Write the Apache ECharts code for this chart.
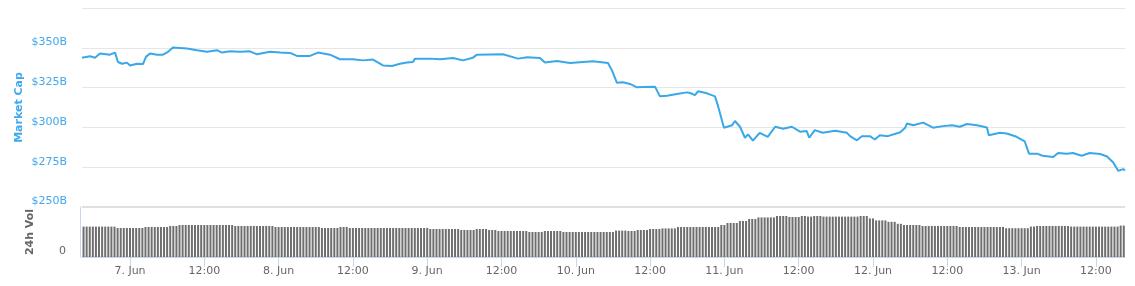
<!DOCTYPE html>
<html>
<head>
<meta charset="utf-8">
<script src="https://cdn.jsdelivr.net/npm/echarts@6/dist/echarts.min.js"></script>
<style>
html,body{margin:0;padding:0;background:#fff;}
#chart{width:1135px;height:286px;}
</style>
</head>
<body>
<div id="chart"></div>
<script>
// Hours relative to 7 Jun 00:00
var mcHours = [-7.75,-6.46,-5.65,-4.85,-3.23,-2.42,-1.94,-1.29,-0.48,0,1.13,2.10,2.58,3.23,4.36,5.33,6.14,6.94,9.21,10.82,12.44,14.05,14.86,16.15,17.77,19.38,20.51,22.61,24.23,25.84,26.97,29.07,30.36,32.30,33.92,36.01,37.63,39.24,40.86,42.31,43.61,44.74,45.70,46.03,48.45,
50.07,52.16,53.78,55.39,56.04,60.24,62.66,64.12,66.22,67.02,68.96,71.06,73.16,74.77,77.20,77.84,78.65,79.62,80.75,81.88,82.85,84.79,85.60,86.73,88.34,89.96,90.44,91.25,91.73,93.19,94.48,94.97,95.93,97.23,97.71,98.52,99.32,99.81,100.6,101.7,103.0,104.2,
105.5,106.9,108.2,109.3,109.7,110.6,111.9,113.9,115.8,116.3,117.4,118.2,119.5,120.3,121.1,122.4,124.4,125.2,125.5,126.5,128.1,129.7,131.3,132.8,134.0,135.2,136.8,138.4,138.7,140.5,141.6,143.2,144.5,145.2,146.5,147.4,149.1,149.9,151.3,152.3,153.7,155.0,156.7,157.8,158.8,159.6,160.4,160.7];
var mcValues = [343.8,344.7,343.8,346.4,345.7,347.0,341.1,340.0,340.7,338.9,340.0,339.8,344.3,346.4,345.7,345.7,347.5,350.2,349.6,348.5,347.5,348.5,347.0,347.8,347.5,347.8,345.9,347.5,347.0,346.8,344.9,344.9,347.0,345.7,342.8,342.8,342.1,342.6,338.9,338.6,340.0,340.7,341.1,343.2,343.2,
342.8,343.6,342.1,343.8,345.7,345.9,343.2,344.0,343.6,340.7,341.7,340.5,341.1,341.5,340.5,335.8,328.0,328.4,327.3,325.2,325.4,325.6,319.5,319.9,321.0,322.0,321.6,320.3,322.7,321.4,319.5,313.5,299.8,301.3,304.0,300.4,293.5,295.6,291.7,296.6,294.1,300.4,
299.2,300.4,297.3,297.7,293.5,298.3,296.6,297.9,296.6,294.5,291.9,294.5,294.5,292.4,295.1,294.5,297.0,299.8,302.5,301.3,303.0,299.8,300.8,301.3,300.4,302.1,301.3,300.0,295.1,296.6,296.2,294.1,291.3,283.5,283.5,282.2,281.4,283.9,283.5,283.9,282.2,283.9,283.3,281.7,278.0,272.7,273.8,272.9];

// 24h volume (billions USD), one bar every 30 minutes from 6 Jun 16:30
var volStartHour = -7.5;
var volStepHours = 0.5;
var volValues = [
15.2,15.2,15.2,15.2,15.2,15.2,15.2,15.2,15.2,15.2,
15.2,14.5,14.5,14.5,14.5,14.5,14.5,14.5,14.5,14.5,
15.0,15.0,15.0,15.0,15.0,15.0,15.0,15.0,15.5,15.5,
15.5,16.0,16.0,16.0,16.0,16.0,16.0,16.0,16.0,16.0,
16.0,16.0,16.0,16.0,16.0,16.0,16.0,16.0,16.0,15.5,
15.5,15.5,15.5,15.5,15.5,15.5,15.5,15.5,15.5,15.5,
15.5,15.5,15.0,15.0,15.0,15.0,15.0,15.0,15.0,15.0,
15.0,15.0,15.0,15.0,15.0,15.0,15.0,14.5,14.5,14.5,
14.5,14.5,14.5,15.0,15.0,15.0,14.5,14.5,14.5,14.5,
14.5,14.5,14.5,14.5,14.5,14.5,14.5,14.5,14.5,14.5,
14.5,14.5,14.5,14.5,14.5,14.5,14.5,14.5,14.5,14.5,
14.5,14.5,14.0,14.0,14.0,14.0,14.0,14.0,14.0,14.0,
14.0,14.0,13.5,13.5,13.5,13.5,13.5,14.0,14.0,14.0,
14.0,13.5,13.5,13.5,13.0,13.0,13.0,13.0,13.0,13.0,
13.0,13.0,13.0,13.0,12.5,12.5,12.5,12.5,12.5,13.0,
13.0,13.0,13.0,13.0,13.0,12.5,12.5,12.5,12.5,12.5,
12.5,12.5,12.5,12.5,12.5,12.5,12.5,12.5,12.5,12.5,
12.5,12.5,13.2,13.2,13.2,13.2,13.0,13.0,13.0,13.5,
13.5,13.5,13.5,14.0,14.0,14.0,14.0,14.3,14.3,14.3,
14.3,14.3,15.0,15.0,15.0,15.0,15.0,15.0,15.0,15.0,
15.0,15.0,15.0,15.0,15.0,15.0,16.0,16.0,17.0,17.0,
17.0,17.0,18.0,18.0,18.0,19.0,19.0,19.0,19.8,19.8,
19.8,19.8,19.8,19.8,20.5,20.5,20.5,20.5,20.0,20.0,
20.0,20.0,20.5,20.5,20.2,20.2,20.5,20.5,20.5,20.2,
20.2,20.2,20.2,20.2,20.2,20.2,20.2,20.2,20.2,20.2,
20.2,20.5,20.5,20.5,19.3,19.3,18.3,18.3,18.3,18.3,
17.6,17.6,17.6,16.6,16.6,16.0,16.0,16.0,16.0,16.0,
16.0,15.5,15.5,15.5,15.5,15.5,15.5,15.5,15.5,15.5,
15.5,15.5,15.5,15.0,15.0,15.0,15.0,15.0,15.0,15.0,
15.0,15.0,15.0,15.0,15.0,15.0,15.0,15.0,14.4,14.4,
14.4,14.4,14.4,14.4,14.4,14.4,15.2,15.2,15.5,15.5,
15.5,15.5,15.5,15.5,15.5,15.5,15.5,15.5,15.5,15.2,
15.2,15.2,15.2,15.2,15.2,15.2,15.2,15.2,15.2,15.2,
15.2,15.2,15.2,15.2,15.2,15.7,15.7];

var xMinHour = -7.75;
var xMaxHour = 160.7;
var tickHours = [0,12,24,36,48,60,72,84,96,108,120,132,144,156];
var mcTicks = {min: 250, max: 375, interval: 25};

var LINE_BLUE = '#38a8e8';
var LABEL_BLUE = '#40a8ee';
var AXIS_BLUE = '#ccd6eb';
var GRAY_TXT = '#666666';
var FONT = 'DejaVu Sans';

var mcData = mcHours.map(function (h, i) { return [h, mcValues[i]]; });
var volData = volValues.map(function (v, i) { return [volStartHour + i * volStepHours, v]; });

function tickLabel(h) {
  if (h % 24 === 0) return (7 + h / 24) + '. Jun';
  return '12:00';
}

var chart = echarts.init(document.getElementById('chart'), null, {renderer: 'canvas'});
chart.setOption({
  animation: false,
  grid: [
    {left: 82, right: 10, top: 8, height: 199},
    {left: 82, right: 10, top: 207, height: 50}
  ],
  xAxis: [
    {
      type: 'value', gridIndex: 0, min: xMinHour, max: xMaxHour,
      show: false, splitLine: {show: false}
    },
    {
      type: 'value', gridIndex: 1, min: xMinHour, max: xMaxHour,
      splitLine: {show: false},
      axisLine: {show: true, onZero: false, lineStyle: {color: AXIS_BLUE, width: 1}},
      axisTick: {show: true, length: 10, customValues: tickHours, lineStyle: {color: AXIS_BLUE}},
      axisLabel: {
        customValues: tickHours, formatter: tickLabel, color: GRAY_TXT,
        fontFamily: FONT, fontSize: 11, margin: 9
      }
    }
  ],
  yAxis: [
    {
      type: 'value', gridIndex: 0, min: mcTicks.min, max: mcTicks.max, interval: mcTicks.interval,
      name: 'Market Cap', nameLocation: 'middle', nameGap: 57, nameRotate: 90,
      nameMoveOverlap: false,
      nameTextStyle: {color: LABEL_BLUE, fontFamily: FONT, fontSize: 11, fontWeight: 'bold'},
      axisLine: {show: false, onZero: false}, axisTick: {show: false},
      splitLine: {show: true, lineStyle: {color: '#e6e6e6', width: 1}},
      axisLabel: {
        color: LABEL_BLUE, fontFamily: FONT, fontSize: 11, margin: 15,
        verticalAlign: 'bottom',
        formatter: function (v) { return v === 375 ? '' : '$' + v + 'B'; }
      }
    },
    {
      type: 'value', gridIndex: 1, min: 0, max: 25, interval: 25,
      name: '24h Vol', nameLocation: 'middle', nameGap: 44, nameRotate: 90,
      nameMoveOverlap: false,
      nameTextStyle: {color: GRAY_TXT, fontFamily: FONT, fontSize: 11, fontWeight: 'bold'},
      offset: 2,
      axisLine: {show: true, onZero: false, lineStyle: {color: AXIS_BLUE, width: 1}},
      axisTick: {show: false},
      splitLine: {show: true, lineStyle: {color: '#e0e0e0', width: 2}},
      axisLabel: {
        color: GRAY_TXT, fontFamily: FONT, fontSize: 11, margin: 14,
        verticalAlign: 'bottom',
        formatter: function (v) { return v === 0 ? '0' : ''; }
      }
    }
  ],
  series: [
    {
      type: 'line', xAxisIndex: 0, yAxisIndex: 0, data: mcData,
      showSymbol: false, symbol: 'none',
      lineStyle: {color: LINE_BLUE, width: 2},
      itemStyle: {color: LINE_BLUE}
    },
    {
      type: 'bar', xAxisIndex: 1, yAxisIndex: 1, data: volData,
      barWidth: 2,
      itemStyle: {color: '#6e6e6e'}
    }
  ]
});
</script>
</body>
</html>
